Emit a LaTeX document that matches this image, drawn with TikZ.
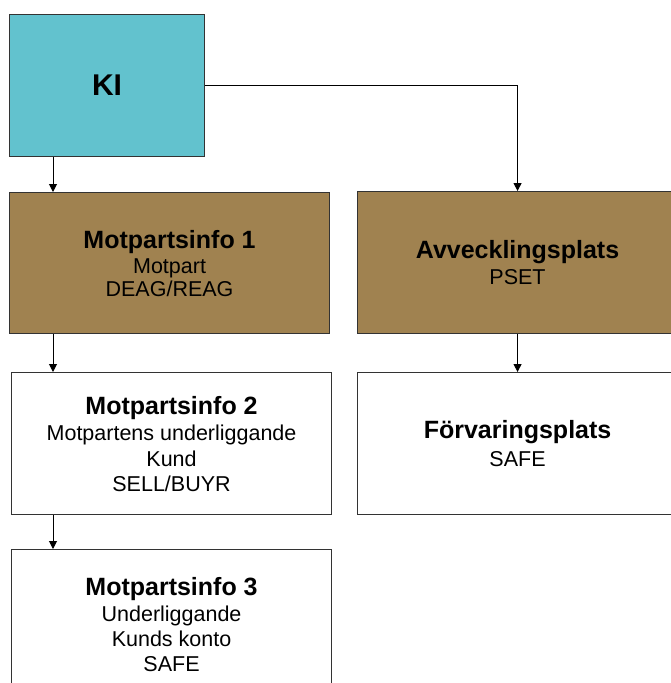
\documentclass[tikz,border=0pt]{standalone}
\usepackage{fontspec}
\setmainfont{Liberation Sans}
\usetikzlibrary{arrows.meta}
\definecolor{kicyan}{HTML}{62C2CE}
\definecolor{boxbrown}{HTML}{A08250}
\definecolor{edgegray}{HTML}{333333}
\newcommand{\hd}[1]{{\fontsize{25}{28}\selectfont\bfseries #1}}
\newcommand{\tx}{\fontsize{21.5}{26}\selectfont}
\begin{document}
\begin{tikzpicture}[x=1pt,y=-1pt,
  box/.style={draw=edgegray,line width=1.1pt,rectangle,anchor=north west,inner sep=0pt,
     minimum width=320pt,minimum height=142pt,align=center,font=\tx},
  conn/.style={draw=black,line width=1pt,-{Triangle[length=8pt,width=8pt]}}]
\useasboundingbox (0,0) rectangle (670,683);
\node[box,fill=kicyan,minimum width=195pt] (ki) at (9,14) {\fontsize{30}{32}\selectfont\bfseries KI};
\node[box,fill=boxbrown,minimum height=141pt] (m1) at (9,192) {\hd{Motpartsinfo 1}\\[-1pt] Motpart\\[-3pt] DEAG/REAG};
\node[box,fill=boxbrown,minimum height=142pt] (avv) at (357,191) {\hd{Avvecklingsplats}\\[0pt] PSET};
\node[box,fill=white] (m2) at (11,372) {\hd{Motpartsinfo 2}\\[0pt] Motpartens underliggande\\ Kund\\[-1pt] SELL/BUYR};
\node[box,fill=white] (forv) at (357,372) {\hd{Förvaringsplats}\\[2pt] SAFE};
\node[box,fill=white,minimum height=150pt] (m3) at (11,549) {\hd{Motpartsinfo 3}\\ Underliggande\\[-1pt] Kunds konto\\[-1pt] SAFE};
\draw[conn] ([xshift=44pt]ki.south west) -- ([xshift=44pt]m1.north west);
\draw[conn] ([xshift=44pt]m1.south west) -- ([xshift=42pt]m2.north west);
\draw[conn] ([xshift=42pt]m2.south west) -- ([xshift=42pt]m3.north west);
\draw[conn] (ki.east) -| (avv.north);
\draw[conn] (avv.south) -- (forv.north);
\end{tikzpicture}
\end{document}
